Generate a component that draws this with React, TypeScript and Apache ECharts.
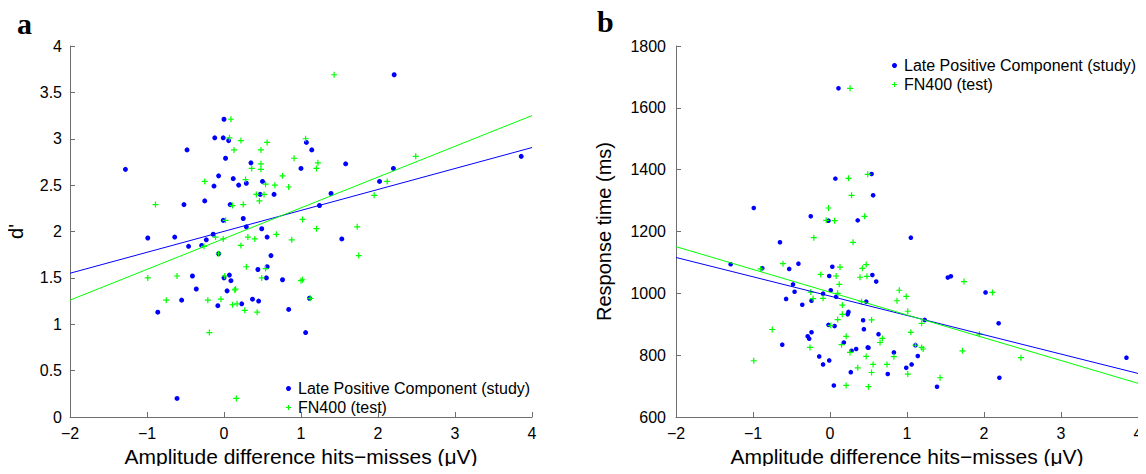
import React, { useEffect, useRef } from "react";
import * as echarts from "echarts";

// Panel a: amplitude difference (µV) vs d'
const lpcDprime: [number, number][] = [
  [0.0, 3.21], [-0.12, 3.01], [-0.01, 3.01], [0.06, 2.98], [-0.48, 2.88], [0.02, 2.79],
  [-1.28, 2.67], [0.35, 2.74], [-0.07, 2.6], [0.12, 2.57], [-0.13, 2.49], [0.19, 2.5],
  [0.29, 2.52], [0.5, 2.54], [0.47, 2.4], [0.65, 2.4], [-0.25, 2.33], [-0.52, 2.29],
  [0.08, 2.29], [-0.01, 2.12], [0.25, 2.14], [0.29, 2.05], [0.49, 2.03], [-0.14, 1.97],
  [-0.99, 1.93], [-0.64, 1.94], [-0.23, 1.91], [0.56, 1.94], [1.0, 2.68], [1.07, 2.96],
  [-0.46, 1.84], [-0.29, 1.85], [-0.07, 1.76], [0.61, 1.74], [-0.41, 1.52], [0.0, 1.5],
  [0.07, 1.53], [0.09, 1.47], [0.44, 1.59], [0.56, 1.62], [0.55, 1.5], [0.76, 1.48],
  [-0.36, 1.38], [0.04, 1.36], [-0.55, 1.26], [0.37, 1.27], [0.45, 1.25], [0.23, 1.22],
  [-0.08, 1.2], [-0.86, 1.13], [0.84, 1.16], [1.11, 1.28], [1.06, 0.91], [-0.61, 0.2],
  [1.14, 2.88], [1.58, 2.73], [2.21, 3.69], [2.2, 2.68], [2.02, 2.54], [1.39, 2.41],
  [1.24, 2.28], [1.53, 1.92], [3.86, 2.81],
];
const fnDprime: [number, number][] = [
  [0.09, 3.21], [0.07, 3.01], [0.22, 2.98], [0.13, 2.88], [0.48, 2.88], [0.56, 2.96],
  [1.06, 3.0], [0.91, 2.79], [0.48, 2.73], [0.36, 2.68], [0.48, 2.67], [0.76, 2.6],
  [-0.25, 2.54], [0.28, 2.56], [0.54, 2.51], [0.66, 2.5], [0.84, 2.48], [0.42, 2.4],
  [0.52, 2.4], [0.46, 2.33], [-0.89, 2.29], [0.11, 2.28], [0.25, 2.29], [0.02, 2.12],
  [1.02, 2.13], [0.68, 1.97], [0.31, 1.94], [0.4, 1.92], [-0.11, 1.94], [-0.01, 1.92],
  [0.88, 1.91], [-0.26, 1.84], [0.22, 1.85], [-0.07, 1.76], [-0.99, 1.5], [-0.61, 1.52],
  [0.01, 1.52], [0.29, 1.62], [0.54, 1.6], [0.49, 1.5], [1.0, 1.47], [1.02, 1.48],
  [0.15, 1.38], [0.14, 1.37], [-0.75, 1.26], [-0.21, 1.26], [-0.04, 1.27], [0.11, 1.21],
  [0.17, 1.22], [0.27, 1.15], [0.43, 1.13], [-0.19, 0.91], [0.16, 0.2], [1.43, 3.69],
  [1.22, 2.74], [1.2, 2.68], [2.49, 2.81], [2.12, 2.54], [1.95, 2.39], [1.2, 2.03],
  [1.73, 2.05], [1.75, 1.74], [1.12, 1.28],
];
const lpcFitA: [number, number][] = [[-2, 1.55], [4, 2.905]];
const fnFitA: [number, number][] = [[-2, 1.26], [4, 3.25]];

// Panel b: amplitude difference (µV) vs response time (ms)
const lpcRT: [number, number][] = [
  [0.11, 1663], [0.07, 1371], [0.54, 1386], [0.56, 1317], [-0.99, 1276], [-0.25, 1249],
  [-0.02, 1235], [0.36, 1236], [-0.65, 1165], [-1.29, 1094], [-0.88, 1081], [-0.53, 1079],
  [-0.41, 1096], [0.03, 1086], [-0.01, 1056], [-0.48, 1029], [-0.46, 1005], [-0.09, 999],
  [0.01, 1010], [0.08, 989], [-0.57, 982], [-0.24, 976], [-0.36, 963], [0.55, 1059],
  [0.6, 1038], [0.47, 973], [0.24, 940], [0.23, 932], [-0.02, 898], [0.06, 894],
  [0.43, 913], [0.44, 884], [-0.29, 861], [-0.24, 874], [-0.27, 853], [-0.62, 834],
  [0.18, 841], [0.28, 814], [0.34, 820], [0.49, 825], [0.5, 824], [0.63, 868],
  [-0.14, 796], [-0.01, 783], [-0.09, 770], [0.27, 745], [0.75, 739], [0.05, 702],
  [1.05, 1180], [1.53, 1051], [1.57, 1055], [2.02, 1003], [1.23, 914], [2.19, 903],
  [1.11, 832], [0.83, 809], [1.14, 797], [1.06, 770], [0.99, 759], [1.39, 698],
  [2.2, 727], [3.85, 792],
];
const fnRT: [number, number][] = [
  [0.26, 1663], [0.24, 1372], [0.49, 1385], [0.28, 1317], [-0.02, 1276], [-0.05, 1236],
  [0.06, 1235], [0.45, 1249], [-0.21, 1180], [0.3, 1165], [-0.61, 1096], [-0.9, 1079],
  [0.13, 1085], [-0.12, 1061], [0.08, 1056], [0.42, 1081], [0.47, 1093], [0.39, 1052],
  [0.48, 1055], [0.12, 1029], [-0.25, 1004], [0.1, 1000], [-0.22, 983], [-0.09, 984],
  [0.41, 973], [0.16, 962], [0.16, 932], [0.1, 915], [0.01, 896], [0.54, 914],
  [-0.75, 883], [0.21, 861], [0.15, 834], [-0.26, 825], [0.68, 854], [0.65, 841],
  [0.26, 809], [0.47, 796], [0.56, 770], [0.74, 770], [-0.99, 782], [0.36, 759],
  [0.54, 744], [0.21, 702], [0.5, 698], [0.9, 1010], [0.99, 990], [0.87, 976],
  [1.01, 942], [1.74, 1038], [2.11, 1003], [1.19, 903], [1.05, 874], [1.94, 868],
  [1.11, 832], [1.19, 825], [1.21, 820], [1.72, 814], [0.83, 795], [1.01, 739],
  [1.43, 727], [2.48, 792],
];
const lpcFitB: [number, number][] = [[-2, 1116], [4, 741]];
const fnFitB: [number, number][] = [[-2, 1151], [4, 709]];

const LPC = "Late Positive Component (study)";
const FN = "FN400 (test)";
const X_TITLE = "Amplitude difference hits\u2212misses (\u03bcV)";

const BLUE = "#0000ff";
const GREEN = "#00ff00";
const AXIS = "#6e6e6e";
const FONT = "Liberation Sans";
const PLUS = "path://M2.4,0H3.6V2.4H6V3.6H3.6V6H2.4V3.6H0V2.4H2.4Z";

const fmt = (v: number) => String(v).replace("-", "\u2212");

export default function App() {
  const ref = useRef<HTMLDivElement>(null);
  useEffect(() => {
    if (!ref.current) return;
    const chart = echarts.init(ref.current, null, { renderer: "svg" });

    const xAxisBase = (gridIndex: number) => ({
      type: "value",
      gridIndex,
      min: -2,
      max: 4,
      interval: 1,
      name: X_TITLE,
      nameLocation: "middle",
      nameGap: 28,
      nameTextStyle: { fontSize: 21, color: "#000", fontFamily: FONT },
      axisLine: { show: true, onZero: false, lineStyle: { color: AXIS, width: 1 } },
      axisTick: { show: true, inside: true, length: 5, lineStyle: { color: AXIS } },
      axisLabel: { color: "#000", fontSize: 16, fontFamily: FONT, margin: 8, formatter: fmt },
      splitLine: { show: false },
    });

    const legend = (left: number, top: number) => ({
      left,
      top,
      orient: "vertical",
      itemWidth: 5,
      itemHeight: 5,
      itemGap: 0,
      selectedMode: false,
      textStyle: { fontSize: 16, fontFamily: FONT, color: "#000", lineHeight: 19, padding: [0, 0, 0, 2] },
      data: [
        { name: LPC, icon: "circle", itemStyle: { color: BLUE } },
        { name: FN, icon: PLUS, itemStyle: { color: GREEN } },
      ],
    });

    chart.setOption({
      animation: false,
      grid: [
        { left: 70, top: 46, width: 462, height: 371 },
        { left: 676, top: 46, width: 462, height: 371 },
      ],
      xAxis: [xAxisBase(0), xAxisBase(1)],
      yAxis: [
        {
          type: "value",
          gridIndex: 0,
          min: 0,
          max: 4,
          interval: 0.5,
          name: "d'",
          nameLocation: "middle",
          nameGap: 44,
          nameTextStyle: { fontSize: 20, color: "#000", fontFamily: FONT },
          axisLine: { show: true, onZero: false, lineStyle: { color: AXIS, width: 1 } },
          axisTick: { show: true, inside: true, length: 5, lineStyle: { color: AXIS } },
          axisLabel: { color: "#000", fontSize: 16, fontFamily: FONT, margin: 8, formatter: fmt },
          splitLine: { show: false },
        },
        {
          type: "value",
          gridIndex: 1,
          min: 600,
          max: 1800,
          interval: 200,
          name: "Response time (ms)",
          nameLocation: "middle",
          nameGap: 62,
          nameTextStyle: { fontSize: 20, color: "#000", fontFamily: FONT },
          axisLine: { show: true, onZero: false, lineStyle: { color: AXIS, width: 1 } },
          axisTick: { show: true, inside: true, length: 5, lineStyle: { color: AXIS } },
          axisLabel: { color: "#000", fontSize: 16, fontFamily: FONT, margin: 10, formatter: (v: number) => String(v) },
          splitLine: { show: false },
        },
      ],
      legend: [legend(281, 374), legend(887, 51)],
      graphic: [
        { type: "text", left: 17, top: 8, style: { text: "a", font: "bold 30px 'Liberation Serif'", fill: "#000" } },
        { type: "text", left: 597, top: 6, style: { text: "b", font: "bold 30px 'Liberation Serif'", fill: "#000" } },
      ],
      series: [
        {
          name: LPC, type: "scatter", xAxisIndex: 0, yAxisIndex: 0, data: lpcDprime,
          symbol: "circle", symbolSize: 5, itemStyle: { color: BLUE, opacity: 1 },
        },
        {
          name: FN, type: "scatter", xAxisIndex: 0, yAxisIndex: 0, data: fnDprime,
          symbol: PLUS, symbolSize: 6, itemStyle: { color: GREEN, opacity: 1 },
        },
        {
          name: "LPC fit a", type: "line", xAxisIndex: 0, yAxisIndex: 0, data: lpcFitA,
          symbol: "none", lineStyle: { color: BLUE, width: 1 }, z: 3,
        },
        {
          name: "FN400 fit a", type: "line", xAxisIndex: 0, yAxisIndex: 0, data: fnFitA,
          symbol: "none", lineStyle: { color: GREEN, width: 1 }, z: 3,
        },
        {
          name: LPC, type: "scatter", xAxisIndex: 1, yAxisIndex: 1, data: lpcRT,
          symbol: "circle", symbolSize: 4.6, itemStyle: { color: BLUE, opacity: 1 },
        },
        {
          name: FN, type: "scatter", xAxisIndex: 1, yAxisIndex: 1, data: fnRT,
          symbol: PLUS, symbolSize: 6, itemStyle: { color: GREEN, opacity: 1 },
        },
        {
          name: "LPC fit b", type: "line", xAxisIndex: 1, yAxisIndex: 1, data: lpcFitB,
          symbol: "none", lineStyle: { color: BLUE, width: 1 }, z: 3,
        },
        {
          name: "FN400 fit b", type: "line", xAxisIndex: 1, yAxisIndex: 1, data: fnFitB,
          symbol: "none", lineStyle: { color: GREEN, width: 1 }, z: 3,
        },
      ],
    });
    return () => chart.dispose();
  }, []);

  return <div ref={ref} style={{ width: 1146, height: 474, margin: -8 }} />;
}
